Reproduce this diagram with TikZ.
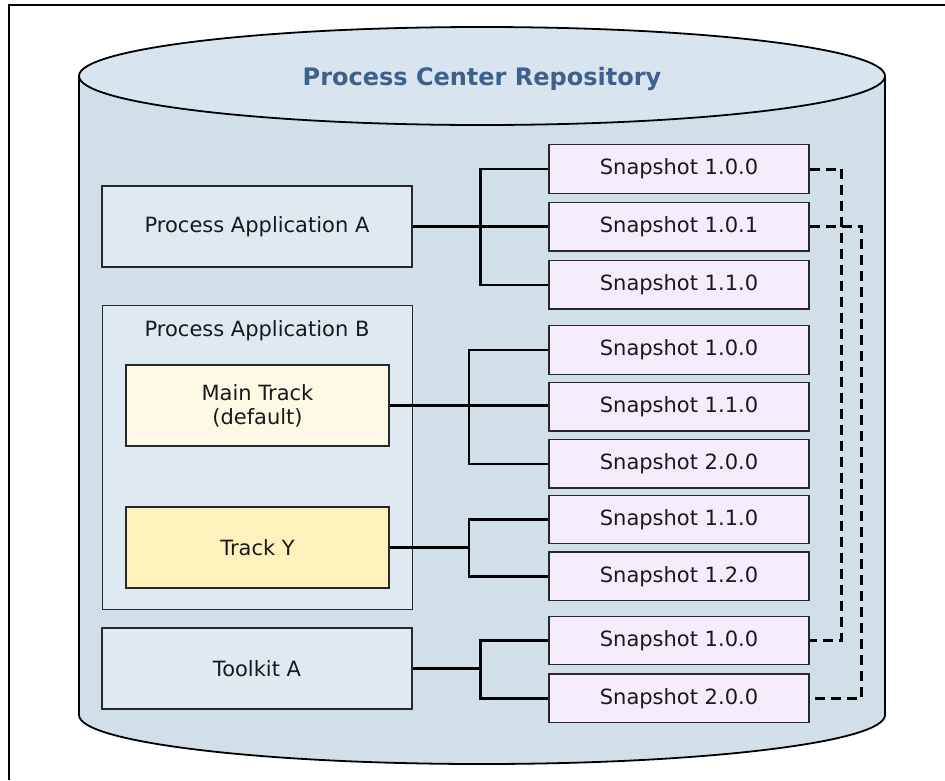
\documentclass[tikz,border=0pt]{standalone}
\usepackage{fontspec}
\setmainfont{DejaVu Sans}
\usepackage{xcolor}
\usepackage{tikz}
\usetikzlibrary{positioning,
calc}

\definecolor{cylbody}{RGB}{208,223,232}
\definecolor{cyltop}{RGB}{217,229,238}
\definecolor{appfill}{RGB}{222,233,241}
\definecolor{snapfill}{RGB}{245,236,253}
\definecolor{mainfill}{RGB}{254,249,228}
\definecolor{trackfill}{RGB}{254,241,187}
\definecolor{titleblue}{RGB}{62,96,142}
\definecolor{boxline}{RGB}{40,40,40}

\begin{document}
\begin{tikzpicture}[
x=1pt, y=1pt,
node distance=8pt,
appbox/.style={
draw=boxline,
line width=1.4pt,
fill=appfill,
inner sep=0pt,
minimum width=310pt,
minimum height=81pt,
text=black!90,
font=\fontsize{21}{24}\selectfont
},
trackbox/.style={
appbox,
align=center,
minimum width=263pt
},
snapbox/.style={
draw=boxline,
line width=1.4pt,
fill=snapfill,
inner sep=0pt,
minimum width=260pt,
minimum height=48.5pt,
text=black!90,
font=\fontsize{21}{24}\selectfont
},
tree/.style={
line width=2.2pt
},
reuse/.style={
line width=3pt,
dash pattern=on 10pt off 6pt
}
]
\useasboundingbox (0,0) rectangle (945,-780);

% Frame
\draw[line width=1.4pt] (9,-780) -- (9,-5) -- (945,-5);

% Repository
\filldraw[fill=cylbody, line width=1.8pt]
(79,-76) -- (79,-715)
arc[start angle=180, end angle=360, x radius=403pt, y radius=49pt]
-- (885,-76);
\filldraw[fill=cyltop, line width=1.8pt]
(482,-76) ellipse[x radius=403pt, y radius=49pt];

\node[text=titleblue, font=\bfseries\fontsize{24}{28}\selectfont]
(repo) at (482,-79) {Process Center Repository};

% Left column
\node[appbox] (appA) at (257,-226.5) {Process Application A};

\node[appbox, anchor=north west, minimum height=304pt] (appB)
at (102,-305) {};
\node[inner sep=0pt, text=black!90, font=\fontsize{21}{24}\selectfont]
(appBname) at (257,-331) {Process Application B};

\node[trackbox, fill=mainfill] (main) at (257.5,-405.5)
{Main Track\\(default)};

\node[trackbox, fill=trackfill] (tracky) at (257.5,-547.5) {Track Y};

\node[appbox] (toolkit) at (257,-668.5) {Toolkit A};

% Snapshots
\node[snapbox] (a100) at (679,-169) {Snapshot 1.0.0};
\node[snapbox, below=of a100] (a101) {Snapshot 1.0.1};
\node[snapbox, below=of a101] (a110) {Snapshot 1.1.0};

\node[snapbox] (m100) at (679,-350) {Snapshot 1.0.0};
\node[snapbox, below=7pt of m100] (m110) {Snapshot 1.1.0};
\node[snapbox, below=7pt of m110] (m200) {Snapshot 2.0.0};

\node[snapbox] (y110) at (679,-519.5) {Snapshot 1.1.0};
\node[snapbox, below=7pt of y110] (y120) {Snapshot 1.2.0};

\node[snapbox] (t100) at (679,-640.5) {Snapshot 1.0.0};
\node[snapbox, below=of t100] (t200) {Snapshot 2.0.0};

% Connections
\coordinate (busA) at ($(appA.east)!0.5!(appA.east -| a101.west)$);
\draw[tree] (appA.east) -- (appA.east -| a101.west);
\draw[tree] (a100.west) -| (busA) |- (a110.west);

\coordinate (busM) at ($(main.east)!0.5!(main.east -| m110.west)$);
\draw[tree] (main.east) -- (main.east -| m110.west);
\draw[tree] (m100.west) -| (busM) |- (m200.west);

\coordinate (busY) at ($(tracky.east)!0.5!(tracky.east -| y110.west)$);
\draw[tree] (tracky.east) -- (busY);
\draw[tree] (y110.west) -| (busY) |- (y120.west);

\coordinate (busT) at ($(toolkit.east)!0.5!(toolkit.east -| t100.west)$);
\draw[tree] (toolkit.east) -- (busT);
\draw[tree] (t100.west) -| (busT) |- (t200.west);

% Toolkit reuse
\draw[reuse] (a100.east) -- ++(32,0) |- (t100.east);
\draw[reuse] (a101.east) -- ++(52,0) |- (t200.east);

\end{tikzpicture}
\end{document}
